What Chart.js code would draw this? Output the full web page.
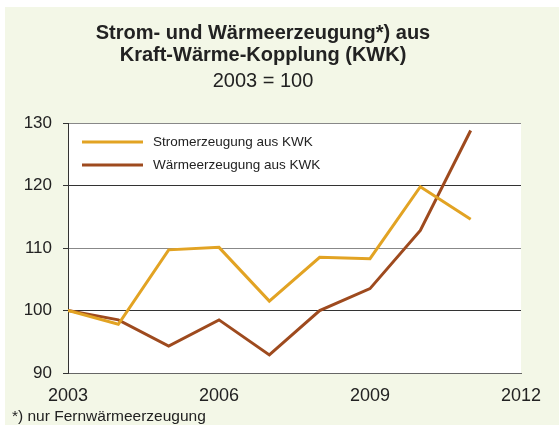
<!DOCTYPE html>
<html>
<head>
<meta charset="utf-8">
<script src="https://cdn.jsdelivr.net/npm/chart.js@4"></script>
<style>
    html, body { margin: 0; padding: 0; background: #ffffff; }
    #wrap { position: relative; width: 559px; height: 425px; }
</style>
</head>
<body>
<div id="wrap"><canvas id="kwk" width="559" height="425"></canvas></div>
<script>
// Daten (Index 2003 = 100)
const years = [2003, 2004, 2005, 2006, 2007, 2008, 2009, 2010, 2011];
const stromValues = [100, 97.8, 109.7, 110.1, 101.5, 108.5, 108.3, 119.8, 114.6];
const waermeValues = [100, 98.5, 94.3, 98.5, 92.9, 100, 103.5, 112.8, 128.8];
const seriesLabels = ['Stromerzeugung aus KWK', 'Wärmeerzeugung aus KWK'];
const titleLines = ['Strom- und Wärmeerzeugung*) aus', 'Kraft-Wärme-Kopplung (KWK)'];
const subtitleText = '2003 = 100';
const footnoteText = '*) nur Fernwärmeerzeugung';
const yTicks = [90, 100, 110, 120, 130];
const xTicks = [2003, 2006, 2009, 2012];

const FONT = '"Liberation Sans", Arial, sans-serif';
const COLOR_STROM = '#e2a323';
const COLOR_WAERME = '#9e4a1e';
const TEXT_COLOR = '#222222';

// Hintergrund, Titel, Legende und Fußnote zeichnen
const decorPlugin = {
    id: 'decor',
    beforeDraw(chart) {
        const ctx = chart.ctx;
        const area = chart.chartArea;
        ctx.save();
        ctx.fillStyle = '#f3f7e7';
        ctx.fillRect(5, 7, chart.width - 5, chart.height - 7);
        ctx.fillStyle = '#ffffff';
        ctx.fillRect(area.left, area.top, area.right - area.left, area.bottom - area.top);
        ctx.restore();
    },
    afterDraw(chart) {
        const ctx = chart.ctx;
        const area = chart.chartArea;
        ctx.save();
        ctx.fillStyle = TEXT_COLOR;
        ctx.textAlign = 'center';
        ctx.textBaseline = 'alphabetic';
        ctx.font = 'bold 20px ' + FONT;
        ctx.fillText(titleLines[0], 263, 39);
        ctx.fillText(titleLines[1], 263, 61);
        ctx.font = '20px ' + FONT;
        ctx.fillText(subtitleText, 263, 87);

        // Fußnote
        ctx.textAlign = 'left';
        ctx.font = '15.5px ' + FONT;
        ctx.fillText(footnoteText, 12, 421);

        // Legende im Diagramm
        ctx.font = '13.5px ' + FONT;
        ctx.textBaseline = 'middle';
        chart.data.datasets.forEach((ds, i) => {
            const y = area.top + 19 + i * 23;
            ctx.strokeStyle = ds.borderColor;
            ctx.lineWidth = 3;
            ctx.beginPath();
            ctx.moveTo(area.left + 14, y);
            ctx.lineTo(area.left + 75, y);
            ctx.stroke();
            ctx.fillStyle = TEXT_COLOR;
            ctx.fillText(ds.label, area.left + 85, y);
        });
        ctx.restore();
    }
};

new Chart(document.getElementById('kwk'), {
    type: 'line',
    data: {
        datasets: [
            {
                label: seriesLabels[0],
                data: years.map((x, i) => ({ x: x, y: stromValues[i] })),
                borderColor: COLOR_STROM,
                borderWidth: 3,
                pointRadius: 0,
                tension: 0,
                fill: false
            },
            {
                label: seriesLabels[1],
                data: years.map((x, i) => ({ x: x, y: waermeValues[i] })),
                borderColor: COLOR_WAERME,
                borderWidth: 3,
                pointRadius: 0,
                tension: 0,
                fill: false
            }
        ]
    },
    options: {
        responsive: false,
        animation: false,
        layout: {
            padding: { left: 0, right: 38, top: 123, bottom: 0 }
        },
        plugins: {
            legend: { display: false },
            title: { display: false },
            tooltip: { enabled: false }
        },
        scales: {
            x: {
                type: 'linear',
                min: xTicks[0],
                max: xTicks[xTicks.length - 1],
                afterBuildTicks(scale) {
                    scale.ticks = xTicks.map(v => ({ value: v }));
                },
                afterFit(scale) {
                    scale.height = 52;
                },
                grid: { display: false },
                border: { display: true, color: '#666666', width: 1 },
                ticks: {
                    color: TEXT_COLOR,
                    font: { family: FONT, size: 18 },
                    padding: 4,
                    maxRotation: 0,
                    autoSkip: false,
                    callback: v => String(v)
                }
            },
            y: {
                min: yTicks[0],
                max: yTicks[yTicks.length - 1],
                afterBuildTicks(scale) {
                    scale.ticks = yTicks.map(v => ({ value: v }));
                },
                afterFit(scale) {
                    scale.width = 68;
                },
                grid: {
                    color: ctx => (ctx.tick && (ctx.tick.value === 110 || ctx.tick.value === 130)) ? '#888888' : '#333333',
                    lineWidth: 1,
                    drawTicks: true,
                    tickLength: 5,
                    tickColor: '#333333'
                },
                border: { display: true, color: '#333333', width: 1 },
                ticks: {
                    color: TEXT_COLOR,
                    font: { family: FONT, size: 17 },
                    padding: 11,
                    callback: v => String(v)
                }
            }
        }
    },
    plugins: [decorPlugin]
});
</script>
</body>
</html>
